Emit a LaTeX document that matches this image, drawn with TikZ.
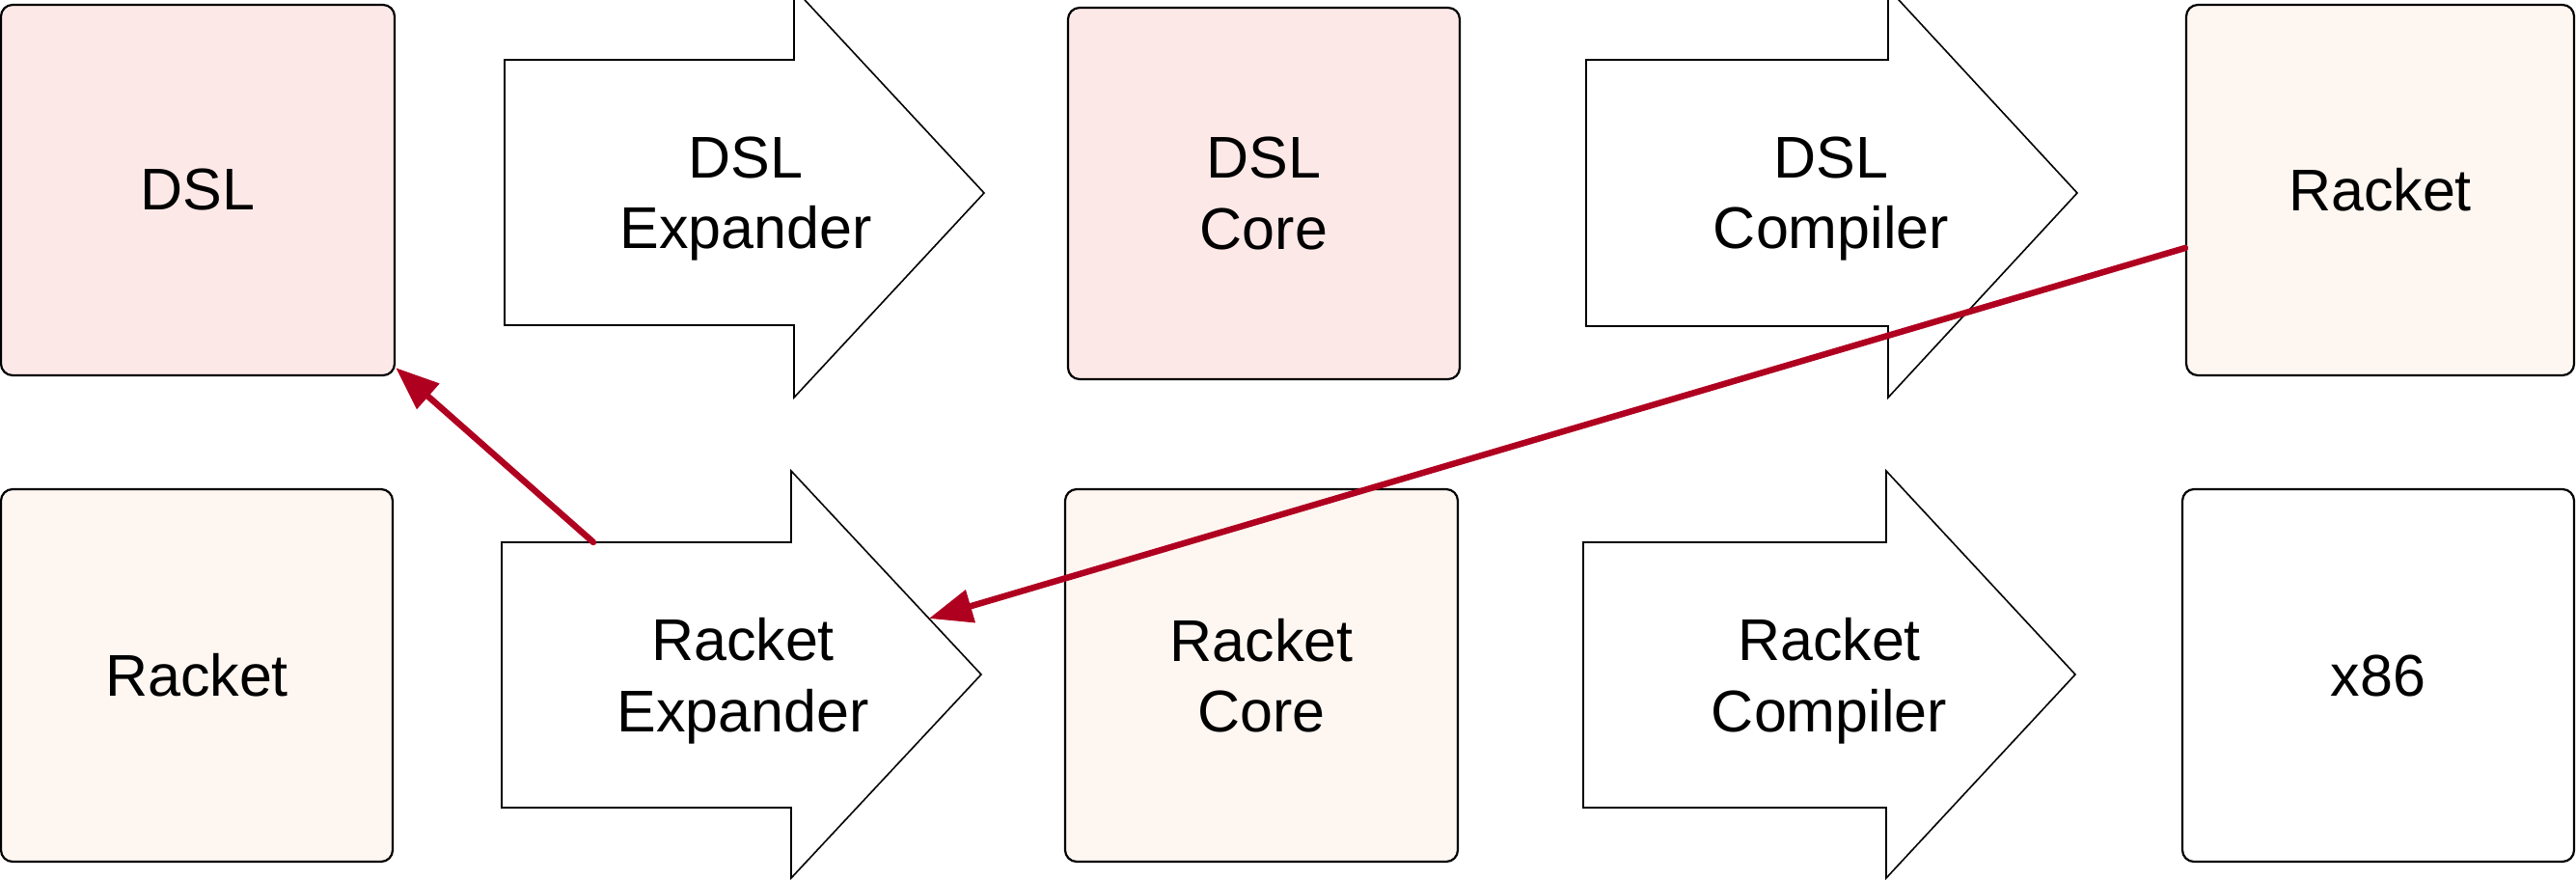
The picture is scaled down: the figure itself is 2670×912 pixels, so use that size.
\documentclass[tikz,border=0pt]{standalone}
\usepackage{fontspec}
\setmainfont{Liberation Sans}
\usetikzlibrary{arrows.meta,calc}
\definecolor{dslfill}{RGB}{253,232,232}
\definecolor{rktfill}{RGB}{254,246,241}
\definecolor{linkred}{RGB}{176,0,32}
\begin{document}
\begin{tikzpicture}[x=1pt,y=-1pt,
  lbl/.style={font=\fontsize{61}{73.5}\selectfont, align=center, inner sep=0pt},
  stage/.style={lbl, draw=black, line width=2.2pt, rounded corners=12pt},
  blockarrow/.style={draw=black, line width=1.6pt, fill=white, line join=miter},
  link/.style={draw=linkred, line width=6.5pt, line cap=round,
               -{Triangle[length=45pt,width=34pt]}}]
\useasboundingbox (0,0) rectangle (2670,912);
\clip (0,0) rectangle (2670,912);

% language / stage boxes
\node[stage, fill=dslfill, minimum width=408pt, minimum height=384pt] (dsl)     at (205,197)    {DSL};
\node[stage, fill=dslfill, minimum width=406pt, minimum height=385pt] (dslcore) at (1310,200.5) {DSL\\Core};
\node[stage, fill=rktfill, minimum width=402pt, minimum height=384pt] (rkttop)  at (2467,197)   {Racket};
\node[stage, fill=rktfill, minimum width=406pt, minimum height=386pt] (rkt)     at (204,700)    {Racket};
\node[stage, fill=rktfill, minimum width=407pt, minimum height=386pt] (rktcore) at (1307.5,700) {Racket\\Core};
\node[stage, fill=white,   minimum width=406pt, minimum height=386pt] (x86)     at (2465,700)   {x86};

% block arrows for the translation passes
\draw[blockarrow] (523,62) -- (823,62) -- (823,-12) -- (1020,200) -- (823,412) -- (823,337) -- (523,337) -- cycle;
\draw[blockarrow] (1644,62) -- (1957,62) -- (1957,-12) -- (2153,200) -- (1957,412) -- (1957,338) -- (1644,338) -- cycle;
\draw[blockarrow] (520,562) -- (820,562) -- (820,488) -- (1017,699) -- (820,910) -- (820,837) -- (520,837) -- cycle;
\draw[blockarrow] (1641,562) -- (1955,562) -- (1955,488) -- (2151,699) -- (1955,910) -- (1955,837) -- (1641,837) -- cycle;

\node[lbl] (dslexp)  at (773,206)   {DSL\\Expander};
\node[lbl] (dslcomp) at (1898,206)  {DSL\\Compiler};
\node[lbl] (rktexp)  at (770,705.5) {Racket\\Expander};
\node[lbl] (rktcomp) at (1896,705.5){Racket\\Compiler};

% attachment points on the Racket expander arrow
\coordinate (rktexp-top)  at (615,562);
\coordinate (rktexp-head) at (820,488);
\coordinate (rktexp-tip)  at (1017,699);
\coordinate (rktexp-edge) at ($(rktexp-head)!0.725!(rktexp-tip)$);

% red links
\draw[link] (rktexp-top) -- ($(dsl.south east)+(0,-9)$);
\draw[link] ($(rkttop.west)+(0,60)$) -- (rktexp-edge);
\end{tikzpicture}
\end{document}
